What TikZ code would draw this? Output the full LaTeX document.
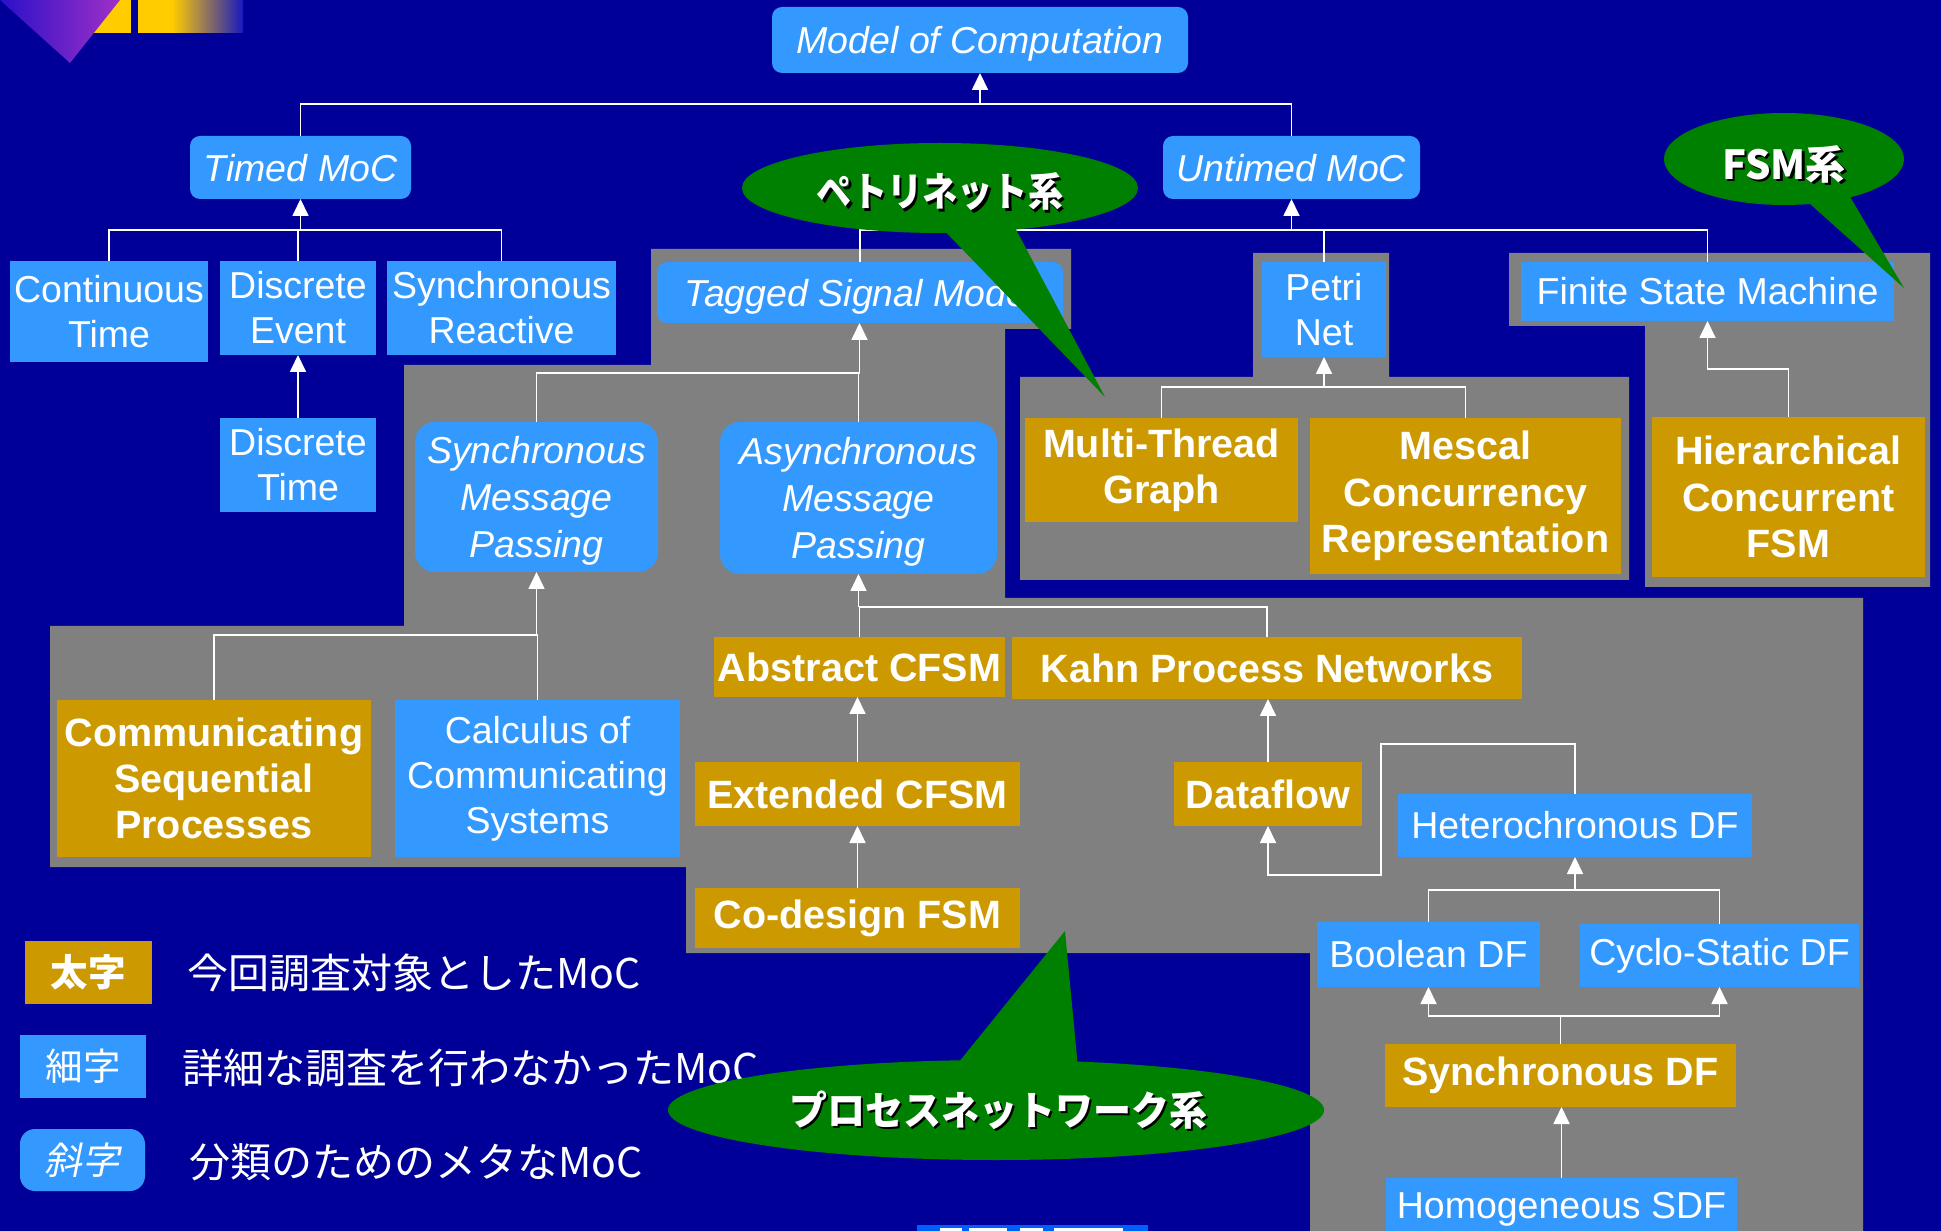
\documentclass[tikz,border=0pt]{standalone}
\usepackage{fontspec}
\setmainfont{Liberation Sans}
\newfontfamily\cjk{Noto Sans CJK JP}
\newfontfamily\cjkit[FakeSlant=0.2]{Noto Sans CJK JP}
\usetikzlibrary{arrows.meta,calc}
\definecolor{bg}{HTML}{000099}
\definecolor{lblue}{HTML}{3399FF}
\definecolor{gold}{HTML}{CC9900}
\definecolor{grayreg}{HTML}{808080}
\definecolor{callg}{HTML}{008000}
\definecolor{ylw}{HTML}{FFCC00}
\definecolor{trileft}{HTML}{2A10C8}
\definecolor{triright}{HTML}{A030C8}
\definecolor{barblue}{HTML}{1818C0}
\definecolor{logoblue}{HTML}{0060FF}
\begin{document}
\begin{tikzpicture}[x=0.4pt,y=-0.4pt,
  bx/.style n args={4}{minimum width={(#3-#1)*0.4pt}, minimum height={(#4-#2)*0.4pt},
     at={({(#1+#3)/2},{(#2+#4)/2})}},
  base/.style={inner sep=0pt, outer sep=0pt, text=white, align=center},
  bluebox/.style={base, fill=lblue, font=\fontsize{15}{18}\selectfont},
  metabox/.style={base, fill=lblue, rounded corners=4pt, text depth=0pt, font=\fontsize{15}{18.7}\selectfont\itshape},
  goldbox/.style={base, fill=gold, font=\fontsize{15.8}{18.5}\selectfont\bfseries},
  conn/.style={draw=white, line width=0.7pt},
  arr/.style={conn, -{Triangle[length=6.8pt,width=6.4pt]}},
  calltext/.style={inner sep=0pt, text=white, font=\cjk\bfseries\fontsize{16}{19}\selectfont},
  shadowtext/.style={calltext, text=black},
  legtext/.style={inner sep=0pt, text=white, anchor=west, font=\cjk\fontsize{16.4}{20}\selectfont}
]
\useasboundingbox (0,0) rectangle (1941,1231);
\clip (0,0) rectangle (1941,1231);
\fill[bg] (0,0) rectangle (1941,1231);

% top-left decoration
\fill[ylw] (83,0) rectangle (131,33);
\shade[left color=trileft, right color=triright] (0,0) -- (120,0) -- (70,63) -- cycle;
\fill[ylw] (138,0) rectangle (172,33);
\shade[left color=ylw, right color=barblue] (172,0) rectangle (243,33);

% gray regions
\fill[grayreg] (651,249) -- (1071,249) -- (1071,329) -- (1005,329) -- (1005,598)
  -- (1863,598) -- (1863,1231) -- (1310,1231) -- (1310,953) -- (686,953)
  -- (686,867) -- (50,867) -- (50,626) -- (404,626) -- (404,365) -- (651,365) -- cycle;
\fill[grayreg] (1253,253) -- (1389,253) -- (1389,377) -- (1629,377) -- (1629,580)
  -- (1020,580) -- (1020,377) -- (1253,377) -- cycle;
\fill[grayreg] (1509,253) -- (1930,253) -- (1930,587) -- (1645,587) -- (1645,326)
  -- (1509,326) -- cycle;

% nodes
\node[metabox, bx={772}{7}{1188}{73}] (moc) {Model of Computation};
\node[metabox, bx={190}{136}{411}{199}] (timed) {Timed MoC};
\node[metabox, bx={1163}{136}{1420}{199}] (untimed) {Untimed MoC};
\node[bluebox, bx={10}{261}{208}{362}] (ct) {Continuous\\Time};
\node[bluebox, bx={220}{261}{376}{355}] (de) {Discrete\\Event};
\node[bluebox, bx={387}{261}{616}{355}] (sr) {Synchronous\\Reactive};
\node[bluebox, bx={220}{418}{376}{512}] (dt) {Discrete\\Time};
\node[metabox, bx={657}{262}{1063}{323}] (tsm) {Tagged Signal Model};
\node[bluebox, bx={1262}{262}{1386}{357}] (petri) {Petri\\Net};
\node[bluebox, bx={1521}{262}{1894}{321}] (fsm) {Finite State Machine};
\node[metabox, rounded corners=8pt, bx={415}{422}{658}{572}] (smp) {Synchronous\\Message\\Passing};
\node[metabox, rounded corners=8pt, bx={720}{422}{997}{574}] (amp) {Asynchronous\\Message\\Passing};
\node[goldbox, bx={1025}{418}{1298}{522}] (mtg) {Multi-Thread\\Graph};
\node[goldbox, bx={1310}{418}{1621}{574}] (mescal) {Mescal\\Concurrency\\Representation};
\node[goldbox, bx={1652}{417}{1925}{577}] (hcfsm) {Hierarchical\\Concurrent\\FSM};
\node[goldbox, bx={57}{700}{371}{857}] (csp) {Communicating\\Sequential\\Processes};
\node[bluebox, bx={395}{700}{680}{857}] (ccs) {Calculus of\\Communicating\\Systems};
\node[goldbox, bx={714}{637}{1005}{697}] (acfsm) {Abstract CFSM};
\node[goldbox, bx={1012}{637}{1522}{699}] (kpn) {Kahn Process Networks};
\node[goldbox, bx={695}{762}{1020}{826}] (ecfsm) {Extended CFSM};
\node[goldbox, bx={1174}{762}{1362}{826}] (df) {Dataflow};
\node[goldbox, bx={695}{888}{1020}{948}] (codesign) {Co-design FSM};
\node[bluebox, bx={1398}{794}{1752}{857}] (hdf) {Heterochronous DF};
\node[bluebox, bx={1317}{922}{1540}{987}] (bdf) {Boolean DF};
\node[bluebox, bx={1580}{924}{1859}{987}] (csdf) {Cyclo-Static DF};
\node[goldbox, bx={1385}{1044}{1736}{1107}] (sdf) {Synchronous DF};
\node[bluebox, bx={1386}{1178}{1737}{1240}] (hsdf) {Homogeneous SDF};

% junction coordinates
\coordinate (jmoc) at (980,104);
\coordinate (jtimed) at (300.5,230);
\coordinate (juntimed) at (1291.5,230);
\coordinate (jtsm) at (859.5,373);
\coordinate (jpetri) at (1324,387);
\coordinate (jfsm) at (1707.5,369);
\coordinate (jsmp) at (536.5,635);
\coordinate (jamp) at (858.5,607);
\coordinate (jhdf) at (1575,890);
\coordinate (jsdf) at (1560.5,1016);
\coordinate (loopa) at (1381,744);
\coordinate (loopb) at (1268,875);

% connectors
\draw[conn] (timed.north) |- (jmoc);
\draw[conn] (untimed.north) |- (jmoc);
\draw[arr] (jmoc) -- (moc.south);

\draw[conn] (ct.north) |- (jtimed);
\draw[conn] (de.north) |- (jtimed);
\draw[conn] (sr.north) |- (jtimed);
\draw[arr] (jtimed) -- (timed.south);
\draw[arr] (dt.north) -- (de.south);

\draw[conn] (tsm.north) |- (juntimed);
\draw[conn] (petri.north) |- (juntimed);
\draw[conn] (fsm.north) |- (juntimed);
\draw[arr] (juntimed) -- (untimed.south);

\draw[conn] (smp.north) |- (jtsm);
\draw[conn] (amp.north) |- (jtsm);
\draw[arr] (jtsm) -- (jtsm |- tsm.south);

\draw[conn] (mtg.north) |- (jpetri);
\draw[conn] (mescal.north) |- (jpetri);
\draw[arr] (jpetri) -- (petri.south);

\draw[arr] (hcfsm.north) |- (jfsm) -- (fsm.south);

\draw[conn] (csp.north) |- (jsmp);
\draw[conn] (ccs.north) |- (jsmp);
\draw[arr] (jsmp) -- (smp.south);

\draw[conn] (acfsm.north) |- (jamp);
\draw[conn] (kpn.north) |- (jamp);
\draw[arr] (jamp) -- (jamp |- amp.south);

\draw[arr] (ecfsm.north) -- (ecfsm.north |- acfsm.south);
\draw[arr] (codesign.north) -- (ecfsm.south);
\draw[arr] (df.north) -- (df.north |- kpn.south);
\draw[arr] (hdf.north) |- (loopa) |- (loopb) -- (df.south);

\draw[conn] (bdf.north) |- (jhdf);
\draw[conn] (csdf.north) |- (jhdf);
\draw[arr] (jhdf) -- (hdf.south);

\draw[conn] (sdf.north) -- (jsdf);
\draw[arr] (jsdf) -| (bdf.south);
\draw[arr] (jsdf) -| (csdf.south);
\draw[arr] (hsdf.north) -- (hsdf.north |- sdf.south);

% legend
\node[goldbox, font=\cjk\bfseries\fontsize{15}{18}\selectfont, bx={25}{941}{152}{1004}] (lg1) {太字};
\node[bluebox, font=\cjk\fontsize{15}{18}\selectfont, bx={20}{1035}{146}{1098}] (lg2) {細字};
\node[bluebox, rounded corners=6pt, font=\cjkit\fontsize{15}{18}\selectfont, bx={20}{1129}{145}{1191}] (lg3) {斜字};
\node[legtext] (lt1) at (187,973) {今回調査対象としたMoC};
\node[legtext] (lt2) at (182,1068) {詳細な調査を行わなかったMoC};
\node[legtext] (lt3) at (189,1162) {分類のためのメタなMoC};

% bottom logo fragment
\fill[logoblue] (917,1225) rectangle (1148,1235);
\fill[white] (940,1228) rectangle (962,1235);
\fill[white] (969,1228) rectangle (1007,1235);
\fill[white] (1020,1228) rectangle (1043,1235);
\fill[white] (1054,1228) rectangle (1123,1235);

% callouts
\fill[callg] (936,222) -- (1012,222) -- (1105,397) -- cycle;
\fill[callg] (940,188) ellipse [x radius=79.2pt, y radius=18pt];
\node[shadowtext] (petrishadow) at (942.5,194.5) {\scalebox{0.88}[1]{ペトリネット系}};
\node[calltext] (petritext) at (940,192) {\scalebox{0.88}[1]{ペトリネット系}};

\fill[callg] (1800,195) -- (1846,190) -- (1904,288) -- cycle;
\fill[callg] (1784,159) ellipse [x radius=48pt, y radius=18.4pt];
\node[shadowtext] (fsmshadow) at (1786.5,166.5) {FSM系};
\node[calltext] (fsmtext) at (1784,164) {FSM系};

\fill[callg] (954,1068) -- (1078,1068) -- (1065,931) -- cycle;
\fill[callg] (996,1110) ellipse [x radius=131.2pt, y radius=20pt];
\node[shadowtext] (procshadow) at (1000.5,1112.5) {\scalebox{0.95}[1]{プロセスネットワーク系}};
\node[calltext] (proctext) at (998,1110) {\scalebox{0.95}[1]{プロセスネットワーク系}};
\end{tikzpicture}
\end{document}
